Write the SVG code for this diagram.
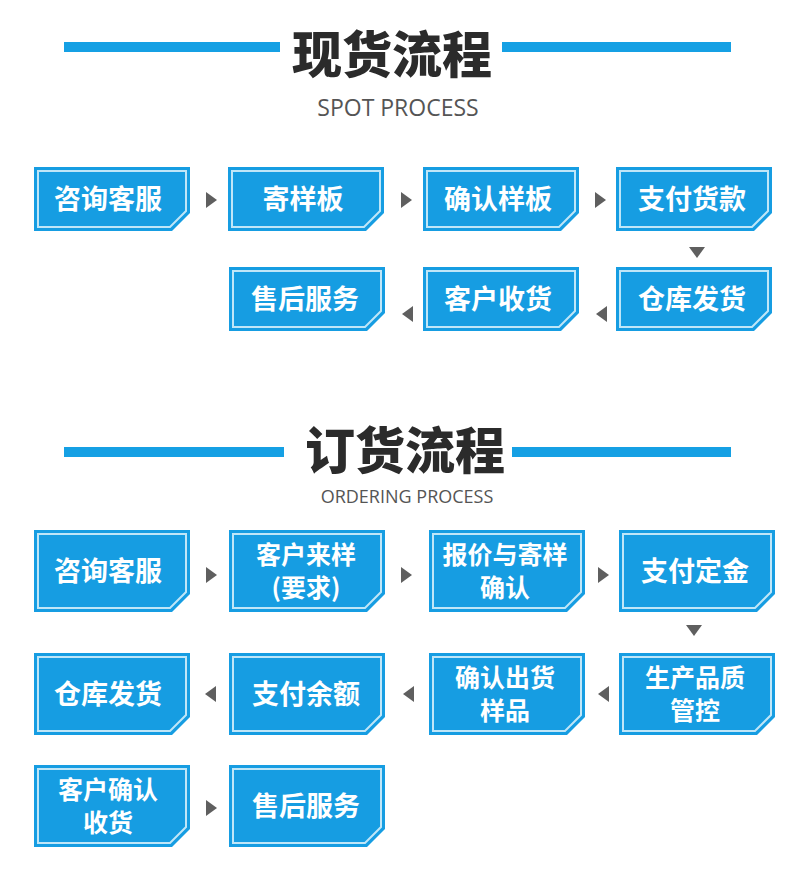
<svg xmlns="http://www.w3.org/2000/svg" width="800" height="875" viewBox="0 0 800 875">
<style>
.o{fill:#169de2}
.i{fill:none;stroke:#bfe6f8;stroke-width:2}
.t{font-family:"Noto Sans CJK SC","Liberation Sans",sans-serif;font-weight:bold;fill:#fff;font-size:27px;text-anchor:middle}
.t2{font-family:"Noto Sans CJK SC","Liberation Sans",sans-serif;font-weight:bold;fill:#fff;font-size:25px;text-anchor:middle}
.a{fill:#5f5f5f}
.h{font-family:"Noto Sans CJK SC",sans-serif;font-weight:900;fill:#2b2b2b;font-size:50px;text-anchor:middle}
.s{font-family:"Open Sans","Liberation Sans",sans-serif;fill:#555;text-anchor:middle}
.bar{fill:#15a0e4}
</style>
<defs>
<g id="b64"><path class="o" d="M0 0H156V46L138 64H0Z"/><path class="i" d="M4 4H152V44L136 60H4Z"/></g>
<g id="b82"><path class="o" d="M0 0H156V64L138 82H0Z"/><path class="i" d="M4 4H152V62L136 78H4Z"/></g>
<path id="r" class="a" d="M0 -8L11 0L0 8Z"/>
<path id="l" class="a" d="M11 -8L0 0L11 8Z"/>
<path id="d" class="a" d="M-8 0H8L0 11Z"/>
</defs>
<rect class="bar" x="64" y="42" width="216" height="10"/>
<rect class="bar" x="502" y="42" width="229" height="10"/>
<text class="h" x="392" y="73">现货流程</text>
<text class="s" x="398" y="116" font-size="23">SPOT PROCESS</text>
<rect class="bar" x="64" y="447" width="220" height="10"/>
<rect class="bar" x="512" y="447" width="219" height="10"/>
<text class="h" x="405" y="469">订货流程</text>
<text class="s" x="407" y="503" font-size="18">ORDERING PROCESS</text>
<g id="connectors">
<use href="#r" x="206" y="200"/><use href="#r" x="401" y="200"/><use href="#r" x="595" y="200"/>
<use href="#d" x="697" y="247"/>
<use href="#l" x="596" y="314"/><use href="#l" x="402" y="314"/>
<use href="#r" x="206" y="575"/><use href="#r" x="401" y="575"/><use href="#r" x="598" y="575"/>
<use href="#d" x="694" y="625"/>
<use href="#l" x="598" y="694"/><use href="#l" x="403" y="694"/><use href="#l" x="205" y="694"/>
<use href="#r" x="206" y="808"/>
</g>
<g id="s1"><use href="#b64" x="34" y="167"/><text class="t" x="108" y="209">咨询客服</text></g>
<g id="s2"><use href="#b64" x="228" y="167"/><text class="t" x="303" y="209">寄样板</text></g>
<g id="s3"><use href="#b64" x="423" y="167"/><text class="t" x="498" y="209">确认样板</text></g>
<g id="s4"><use href="#b64" x="616" y="167"/><text class="t" x="692" y="209">支付货款</text></g>
<g id="s5"><use href="#b64" x="616" y="267"/><text class="t" x="692" y="309">仓库发货</text></g>
<g id="s6"><use href="#b64" x="423" y="267"/><text class="t" x="498" y="309">客户收货</text></g>
<g id="s7"><use href="#b64" x="229" y="267"/><text class="t" x="305" y="309">售后服务</text></g>
<g id="o1"><use href="#b82" x="34" y="530"/><text class="t" x="108" y="581">咨询客服</text></g>
<g id="o2"><use href="#b82" x="229" y="530"/><text class="t2" x="306" y="564">客户来样<tspan x="306" dy="33">(要求)</tspan></text></g>
<g id="o3"><use href="#b82" x="429" y="530"/><text class="t2" x="505" y="564">报价与寄样<tspan x="505" dy="33">确认</tspan></text></g>
<g id="o4"><use href="#b82" x="619" y="530"/><text class="t" x="695" y="581">支付定金</text></g>
<g id="o5"><use href="#b82" x="619" y="653"/><text class="t2" x="695" y="687">生产品质<tspan x="695" dy="33">管控</tspan></text></g>
<g id="o6"><use href="#b82" x="429" y="653"/><text class="t2" x="505" y="687">确认出货<tspan x="505" dy="33">样品</tspan></text></g>
<g id="o7"><use href="#b82" x="229" y="653"/><text class="t" x="306" y="704">支付余额</text></g>
<g id="o8"><use href="#b82" x="34" y="653"/><text class="t" x="108" y="704">仓库发货</text></g>
<g id="o9"><use href="#b82" x="34" y="765"/><text class="t2" x="108" y="799">客户确认<tspan x="108" dy="33">收货</tspan></text></g>
<g id="o10"><use href="#b82" x="229" y="765"/><text class="t" x="306" y="816">售后服务</text></g>
</svg>
